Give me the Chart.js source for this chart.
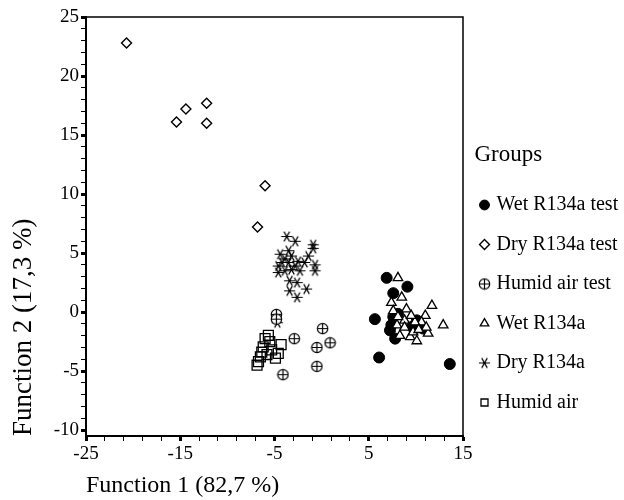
<!DOCTYPE html>
<html>
<head>
<meta charset="utf-8">
<script src="https://cdn.jsdelivr.net/npm/chart.js@4.4.1/dist/chart.umd.min.js"></script>
<style>
  html, body { margin: 0; padding: 0; background: #fff; }
  #wrap { width: 624px; height: 500px; }
</style>
</head>
<body>
<div id="wrap"><canvas id="scatter" width="624" height="500"></canvas></div>
<script>
// groups, in legend order
const groupNames = ['Wet R134a test', 'Dry R134a test', 'Humid air test', 'Wet R134a', 'Dry R134a', 'Humid air'];

// scores on function 1 (x) and function 2 (y)
const wetTestX = [6.9, 9.1, 7.6, 5.65, 7.6, 8.1, 7.4, 7.25, 7.8, 9.6, 10.1, 10.4, 10.8, 6.1, 13.6];
const wetTestY = [2.9, 2.15, 1.6, -0.6, -0.4, -0.15, -1.1, -1.55, -2.25, -1.25, -0.7, -1.1, -1.4, -3.85, -4.4];

const dryTestX = [-20.7, -14.4, -15.4, -12.2, -12.2, -6.0, -6.8];
const dryTestY = [22.8, 17.2, 16.1, 17.7, 16.0, 10.7, 7.2];

const humidTestX = [-4.8, -4.8, -2.9, 0.1, -0.5, 0.9, -0.5, -4.1];
const humidTestY = [-0.2, -0.6, -2.25, -1.4, -3.0, -2.6, -4.6, -5.3];

const wetX = [8.1, 8.5, 7.4, 9.0, 7.6, 11.7, 12.9, 11.0, 8.8, 11.3, 9.4, 10.1, 9.7, 8.0, 8.3, 10.6, 11.1, 9.9, 8.1, 8.8, 10.3, 9.5];
const wetY = [2.9, 1.25, 0.8, 0.25, 0.1, 0.55, -1.1, -0.3, -0.7, -1.8, -2.1, -2.45, -1.7, -1.1, -2.0, -0.85, -1.3, -0.85, -0.4, -1.3, -1.5, -0.3];

const dryX = [-3.7, -2.8, -0.9, -0.9, -4.4, -3.5, -3.2, -3.9, -1.4, -2.5, -1.8, -4.6, -4.6, -0.7, -0.7, -2.8, -3.2, -3.9, -2.3, -3.4, -2.6, -3.4, -1.6, -2.6, -4.2, -3.5, -4.7];
const dryY = [6.4, 6.0, 5.7, 5.4, 4.9, 5.2, 4.75, 4.5, 4.75, 4.3, 4.2, 3.9, 3.35, 4.0, 3.5, 3.9, 3.6, 3.5, 3.5, 2.65, 2.5, 1.8, 1.95, 1.25, 4.2, 4.2, -0.9];

const humidX = [-4.3, -4.6, -4.9, -6.7, -6.5, -6.0, -5.65, -6.2, -6.35, -5.5, -5.3, -5.8, -6.85];
const humidY = [-2.76, -3.5, -3.9, -4.2, -3.8, -2.25, -1.97, -2.95, -3.4, -2.5, -3.2, -3.6, -4.5];

// labelled ticks; minor ticks sit every 2 units on x and every unit on y
const xMajorTicks = [-25, -15, -5, 5, 15];
const yMajorTicks = [-10, -5, 0, 5, 10, 15, 20, 25];

const xTickValues = [];
for (let v = -25; v <= 15; v += 2) xTickValues.push(v);
const yTickValues = [];
for (let v = -10; v <= 25; v += 1) yTickValues.push(v);

const serif = "'Liberation Serif', 'Times New Roman', serif";

const toPoints = (xs, ys) => xs.map((x, i) => ({ x: x, y: ys[i] }));

function makeMarker(draw) {
  const c = document.createElement('canvas');
  c.width = 13;
  c.height = 13;
  const g = c.getContext('2d');
  g.strokeStyle = '#000';
  g.fillStyle = '#fff';
  g.lineWidth = 1.2;
  draw(g);
  return c;
}

// circle with a plus inside
const circlePlus = makeMarker(g => {
  g.beginPath();
  g.arc(6.5, 6.5, 5.2, 0, Math.PI * 2);
  g.fill();
  g.stroke();
  g.beginPath();
  g.moveTo(1.3, 6.5); g.lineTo(11.7, 6.5);
  g.moveTo(6.5, 1.3); g.lineTo(6.5, 11.7);
  g.stroke();
});

// six-armed asterisk
const asterisk = makeMarker(g => {
  g.beginPath();
  for (let a = 0; a < 3; a++) {
    const t = a * Math.PI / 3;
    g.moveTo(6.5 - 5.6 * Math.cos(t), 6.5 - 5.6 * Math.sin(t));
    g.lineTo(6.5 + 5.6 * Math.cos(t), 6.5 + 5.6 * Math.sin(t));
  }
  g.stroke();
});

// top and right edges of the plot box
const frame = {
  id: 'frame',
  beforeDatasetsDraw(chart) {
    const { ctx, chartArea: a } = chart;
    ctx.save();
    ctx.strokeStyle = '#000';
    ctx.lineWidth = 1.5;
    ctx.beginPath();
    ctx.moveTo(a.left, a.top);
    ctx.lineTo(a.right, a.top);
    ctx.lineTo(a.right, a.bottom);
    ctx.stroke();
    ctx.restore();
  }
};

const datasets = [
  { label: groupNames[0], data: toPoints(wetTestX, wetTestY), pointStyle: 'circle', radius: 5.5,
    backgroundColor: '#000', borderColor: '#000', borderWidth: 1, order: 1 },
  { label: groupNames[1], data: toPoints(dryTestX, dryTestY), pointStyle: 'rectRot', radius: 5,
    backgroundColor: '#fff', borderColor: '#000', borderWidth: 1.4, order: 2 },
  { label: groupNames[2], data: toPoints(humidTestX, humidTestY), pointStyle: circlePlus,
    backgroundColor: '#fff', borderColor: '#000', order: 2 },
  { label: groupNames[3], data: toPoints(wetX, wetY), pointStyle: 'triangle', radius: 5.5,
    backgroundColor: '#fff', borderColor: '#000', borderWidth: 1.3, order: 0 },
  { label: groupNames[4], data: toPoints(dryX, dryY), pointStyle: asterisk,
    backgroundColor: '#000', borderColor: '#000', order: 3 },
  { label: groupNames[5], data: toPoints(humidX, humidY), pointStyle: 'rect', radius: 7,
    backgroundColor: 'rgba(0,0,0,0)', borderColor: '#000', borderWidth: 1.3, order: 3 }
];

new Chart(document.getElementById('scatter'), {
  type: 'scatter',
  data: { datasets: datasets },
  plugins: [frame],
  options: {
    responsive: false,
    animation: false,
    devicePixelRatio: 1,
    layout: { padding: { top: 17, right: 0, bottom: 0, left: 0 } },
    scales: {
      x: {
        type: 'linear',
        min: -25,
        max: 15,
        afterBuildTicks: axis => { axis.ticks = xTickValues.map(v => ({ value: v })); },
        afterFit: axis => { axis.height = 64; },
        ticks: {
          autoSkip: false,
          maxRotation: 0,
          padding: 2,
          color: '#000',
          font: { family: serif, size: 19 },
          callback: v => xMajorTicks.includes(v) ? String(v) : ''
        },
        grid: {
          drawOnChartArea: false,
          tickLength: 5,
          tickColor: '#000',
          tickWidth: c => xMajorTicks.includes(c.tick.value) ? 3 : 1
        },
        border: { display: true, color: '#000', width: 2 },
        title: {
          display: true,
          text: 'Function 1 (82,7 %)',
          align: 'start',
          color: '#000',
          font: { family: serif, size: 24 },
          padding: { top: 0, bottom: 0 }
        }
      },
      y: {
        type: 'linear',
        min: -10.5,
        max: 25,
        afterBuildTicks: axis => { axis.ticks = yTickValues.map(v => ({ value: v })); },
        afterFit: axis => { axis.width = 86; },
        ticks: {
          autoSkip: false,
          padding: 2,
          color: '#000',
          font: { family: serif, size: 19 },
          callback: v => yMajorTicks.includes(v) ? String(v) : ''
        },
        grid: {
          drawOnChartArea: false,
          tickLength: 5,
          tickColor: '#000',
          tickWidth: c => yMajorTicks.includes(c.tick.value) ? 3 : 1
        },
        border: { display: true, color: '#000', width: 2 },
        title: {
          display: true,
          text: 'Function 2 (17,3 %)',
          align: 'start',
          color: '#000',
          font: { family: serif, size: 27 },
          padding: { top: 8, bottom: 0 }
        }
      }
    },
    plugins: {
      tooltip: { enabled: false },
      legend: {
        position: 'right',
        align: 'center',
        maxWidth: 161,
        title: {
          display: true,
          text: '  Groups',
          position: 'start',
          color: '#000',
          font: { family: serif, size: 23 },
          padding: { top: 58.5, bottom: 4.4 }
        },
        labels: {
          usePointStyle: true,
          boxWidth: 4,
          boxHeight: 7,
          padding: 19.5,
          color: '#000',
          font: { family: serif, size: 20 },
          sort: (a, b) => a.datasetIndex - b.datasetIndex
        }
      }
    }
  }
});
</script>
</body>
</html>
